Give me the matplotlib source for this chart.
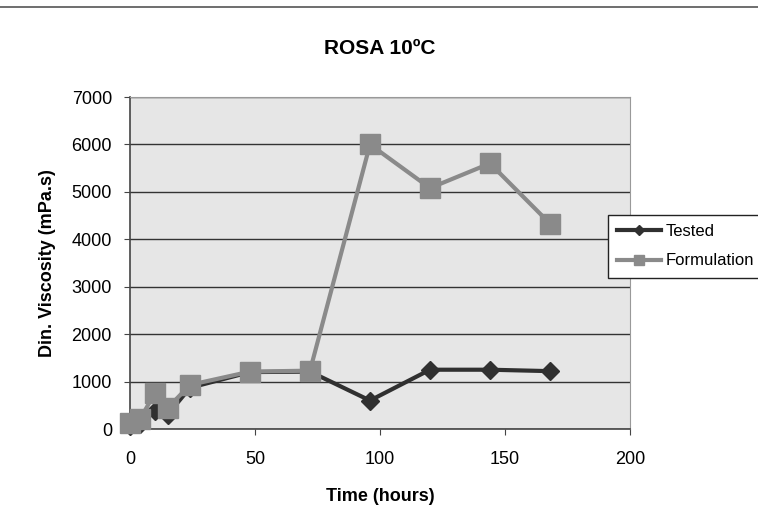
import matplotlib.pyplot as plt
from matplotlib.lines import Line2D

# data
hours = [0, 4, 10, 15, 24, 48, 72, 96, 120, 144, 168]
tested = [60, 110, 380, 300, 870, 1200, 1210, 600, 1250, 1250, 1220]
formulation = [130, 210, 760, 440, 930, 1210, 1230, 6000, 5080, 5600, 4330]

plt.rcParams["font.family"] = ["Liberation Sans", "DejaVu Sans"]

fig = plt.figure(figsize=(7.58, 5.2), dpi=100)
fig.patch.set_facecolor("white")

# rule across the top of the page
fig.add_artist(Line2D([0.0, 1.0], [0.987, 0.987], color="#555555", lw=1.2))

ax = fig.add_axes([130 / 758, 91 / 520, 500 / 758, 332 / 520])
ax.set_facecolor("#e6e6e6")
ax.set_xlim(0, 200)
ax.set_ylim(0, 7000)
ax.set_xticks(range(0, 201, 50))
ax.set_yticks(range(0, 7001, 1000))
ax.yaxis.grid(True, color="#333333", lw=1.0)
ax.set_axisbelow(True)
for side in ["top", "right"]:
    ax.spines[side].set_color("#999999")
for side in ["left", "bottom"]:
    ax.spines[side].set_color("#444444")
    ax.spines[side].set_linewidth(1.2)
ax.tick_params(labelsize=13, length=4, color="#444444")
ax.tick_params(axis="x", pad=12)
ax.tick_params(axis="y", pad=9)

ax.plot(hours, tested, color="#303030", lw=3, marker="D", ms=9,
        mfc="#303030", mec="#303030", label="Tested", zorder=3, clip_on=False)
ax.plot(hours, formulation, color="#8a8a8a", lw=3, marker="s", ms=14,
        mfc="#8a8a8a", mec="#8a8a8a", label="Formulation", zorder=4,
        clip_on=False)

ax.set_title("ROSA 10ºC", fontsize=15, fontweight="bold", pad=31)
ax.set_xlabel("Time (hours)", fontsize=13, fontweight="bold", labelpad=14)
ax.set_ylabel("Din. Viscosity (mPa.s)", fontsize=13, fontweight="bold", labelpad=11)

leg = ax.legend(loc="upper left", bbox_to_anchor=(478 / 500, 214 / 332),
                bbox_transform=ax.transAxes, borderaxespad=0,
                fontsize=12, frameon=True, fancybox=False, framealpha=1,
                edgecolor="#222222", borderpad=0.55, handlelength=2.6,
                handletextpad=0.3, markerscale=0.55, labelspacing=0.85)
leg.get_frame().set_linewidth(1.0)

fig.savefig("out.png", dpi=100)
